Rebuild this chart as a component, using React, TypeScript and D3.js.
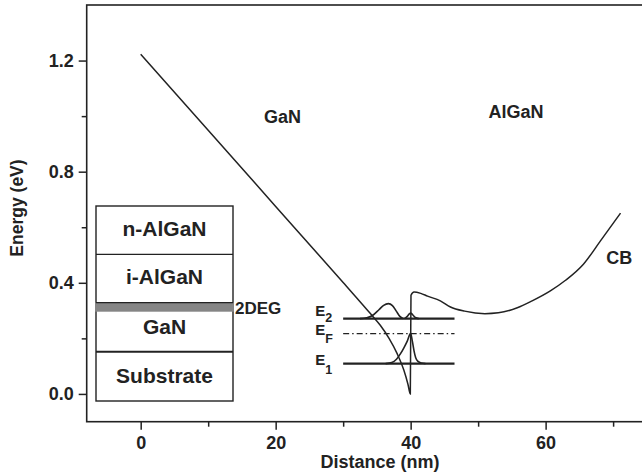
import React, { useEffect, useRef } from 'react';
import * as d3 from 'd3';

// Axis ticks
const xTicksMajor = [0, 20, 40, 60];
const xTicksMinor = [10, 30, 50, 70];
const yTicksMajor = [0.0, 0.4, 0.8, 1.2];
const yTicksMinor = [0.2, 0.6, 1.0];

// Conduction band (distance nm, energy eV)
const cbX = [0, 10, 20, 30, 34, 35.5, 36.8, 38, 39, 39.6, 39.95, 40.05, 40.5, 41.5, 42.5, 44.4, 45.9, 48, 51, 53, 55.8, 58, 60.7, 63, 65.6, 68.1, 71.1];
const cbE = [1.223, 0.949, 0.675, 0.401, 0.29, 0.247, 0.2, 0.145, 0.085, 0.035, 0.0, 0.355, 0.367, 0.362, 0.352, 0.335, 0.313, 0.298, 0.289, 0.292, 0.31, 0.335, 0.371, 0.41, 0.467, 0.55, 0.651];

// Subband levels
const levelNames = ['2', 'F', '1'];
const levelE = [0.271, 0.217, 0.109];
const levelFrom = 30;
const levelTo = 46.5;

// Wavefunctions
const e2WaveX = [32.5, 33.5, 34.5, 35.3, 36, 36.7, 37.3, 37.9, 38.4, 38.9];
const e2WaveE = [0.271, 0.274, 0.285, 0.303, 0.319, 0.325, 0.318, 0.297, 0.279, 0.271];
const e2SmallX = [39.1, 39.5, 39.8, 40.0, 40.3, 40.7, 41.2];
const e2SmallE = [0.271, 0.279, 0.288, 0.291, 0.285, 0.275, 0.271];
const e1WaveX = [36.3, 37.2, 37.9, 38.5, 39.0, 39.5, 40.0, 40.25, 40.5, 40.75, 41.1, 41.6, 42.2];
const e1WaveE = [0.109, 0.113, 0.125, 0.145, 0.166, 0.19, 0.218, 0.19, 0.155, 0.13, 0.117, 0.111, 0.109];

// Inset layers
const layerNames = ['n-AlGaN', 'i-AlGaN', 'GaN', 'Substrate'];
const regionNames = ['GaN', 'AlGaN', 'CB'];

const W = 642, H = 476;
const FONT = '"Liberation Sans", Arial, Helvetica, sans-serif';

export default function App() {
  const ref = useRef<SVGSVGElement | null>(null);
  useEffect(() => {
    const svg = d3.select(ref.current);
    svg.selectAll('*').remove();
    const x = d3.scaleLinear().domain([-8, 80]).range([86.7, 680.6]);
    const y = d3.scaleLinear().domain([-0.1, 1.4]).range([421.7, 5]);
    const g = svg.append('g').attr('font-family', FONT).attr('font-weight', 'bold').attr('fill', '#222');

    // frame
    g.append('rect').attr('x', x(-8)).attr('y', y(1.4)).attr('width', x(80) - x(-8)).attr('height', y(-0.1) - y(1.4))
      .attr('fill', 'none').attr('stroke', '#222').attr('stroke-width', 1.6);

    // axes
    const xAxis = g.append('g').attr('transform', `translate(0,${y(-0.1)})`)
      .call(d3.axisBottom(x).tickValues(xTicksMajor).tickSize(8).tickPadding(7).tickFormat(d3.format('d')));
    const xMinor = g.append('g').attr('transform', `translate(0,${y(-0.1)})`)
      .call(d3.axisBottom(x).tickValues(xTicksMinor).tickSize(5).tickFormat(() => ''));
    const yAxis = g.append('g').attr('transform', `translate(${x(-8)},0)`)
      .call(d3.axisLeft(y).tickValues(yTicksMajor).tickSize(8).tickPadding(5).tickFormat(d3.format('.1f')));
    const yMinor = g.append('g').attr('transform', `translate(${x(-8)},0)`)
      .call(d3.axisLeft(y).tickValues(yTicksMinor).tickSize(5).tickFormat(() => ''));
    [xAxis, xMinor, yAxis, yMinor].forEach(a => {
      a.select('.domain').remove();
      a.selectAll('line').attr('stroke', '#222').attr('stroke-width', 1.5);
      a.selectAll('text').attr('font-family', FONT).attr('font-weight', 'bold').attr('font-size', 18).attr('fill', '#222');
    });

    // axis titles
    g.append('text').attr('x', 380).attr('y', 468).attr('text-anchor', 'middle')
      .attr('font-size', 18).text('Distance (nm)');
    g.append('text').attr('transform', `translate(23,${208}) rotate(-90)`).attr('text-anchor', 'middle')
      .attr('font-size', 17.5).text('Energy (eV)');

    // levels
    const lineGen = (xs: number[], es: number[]) =>
      d3.line<number>().x((_, i) => x(xs[i])).y((_, i) => y(es[i])).curve(d3.curveMonotoneX)(xs);
    const labelShift = [[-3, 6], [1, 8], [1, 9]];
    levelE.forEach((e, i) => {
      const l = g.append('line').attr('x1', x(levelFrom)).attr('x2', x(levelTo)).attr('y1', y(e)).attr('y2', y(e))
        .attr('stroke', '#222');
      if (levelNames[i] === 'F') l.attr('stroke-width', 1.3).attr('stroke-dasharray', '6,3,1.5,3');
      else l.attr('stroke-width', 2.2);
      const t = g.append('text').attr('x', x(levelFrom) - 28).attr('y', y(e) + labelShift[i][0]).attr('font-size', 15);
      t.append('tspan').text('E');
      t.append('tspan').attr('dy', labelShift[i][1]).attr('font-size', 12.5).text(levelNames[i]);
    });

    // wavefunctions
    [[e2WaveX, e2WaveE], [e2SmallX, e2SmallE], [e1WaveX, e1WaveE]].forEach(([xs, es]) => {
      g.append('path').attr('d', lineGen(xs, es)).attr('fill', 'none').attr('stroke', '#222').attr('stroke-width', 1.6);
    });

    // conduction band
    g.append('path').attr('d', lineGen(cbX, cbE)).attr('fill', 'none').attr('stroke', '#222').attr('stroke-width', 1.5);

    // region labels
    const regionPos: [number, number][] = [[21, 0.975], [55.6, 0.993], [70.9, 0.468]];
    regionNames.forEach((n, i) => {
      g.append('text').attr('x', x(regionPos[i][0])).attr('y', y(regionPos[i][1])).attr('text-anchor', 'middle')
        .attr('font-size', 18).text(n);
    });

    // inset layer stack
    const bx0 = 96, bx1 = 233;
    const bounds = [206, 254.3, 302.7, 351.7, 401];
    const inset = g.append('g');
    inset.append('rect').attr('x', bx0).attr('y', bounds[0]).attr('width', bx1 - bx0).attr('height', bounds[4] - bounds[0])
      .attr('fill', '#fff').attr('stroke', '#222').attr('stroke-width', 1.4);
    inset.append('line').attr('x1', bx0).attr('x2', bx1).attr('y1', bounds[1]).attr('y2', bounds[1]).attr('stroke', '#222').attr('stroke-width', 1.2);
    inset.append('rect').attr('x', bx0 - 1).attr('y', bounds[2]).attr('width', bx1 - bx0 + 2).attr('height', 9).attr('fill', '#858585');
    inset.append('line').attr('x1', bx0).attr('x2', bx1).attr('y1', bounds[2]).attr('y2', bounds[2]).attr('stroke', '#222').attr('stroke-width', 1.2);
    inset.append('line').attr('x1', bx0).attr('x2', bx1).attr('y1', bounds[3]).attr('y2', bounds[3]).attr('stroke', '#222').attr('stroke-width', 2);
    const labelY = [236, 284, 334, 383];
    layerNames.forEach((n, i) => {
      inset.append('text').attr('x', (bx0 + bx1) / 2).attr('y', labelY[i]).attr('text-anchor', 'middle')
        .attr('font-size', 21).text(n);
    });
    inset.append('text').attr('x', bx1 + 2).attr('y', 314).attr('font-size', 17).text('2DEG');
  }, []);
  return <svg ref={ref} width={W} height={H} style={{ position: 'absolute', left: 0, top: 0, background: '#fff' }} />;
}
